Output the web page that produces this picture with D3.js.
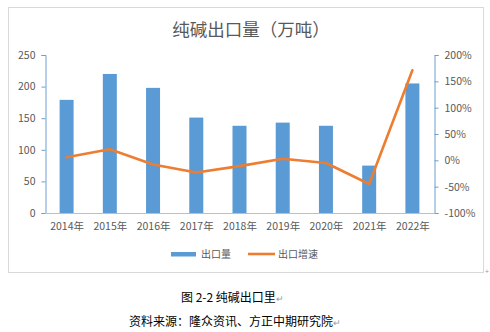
<!DOCTYPE html>
<html>
<head>
<meta charset="utf-8">
<script src="https://cdn.jsdelivr.net/npm/d3@7"></script>
<style>
  html, body { margin: 0; padding: 0; background: #fff; }
  svg { display: block; }
</style>
</head>
<body>
<svg id="chart" width="490" height="332"></svg>
<script>
// Soda ash exports (10k tonnes) and year-on-year growth
const years = ["2014年", "2015年", "2016年", "2017年", "2018年", "2019年", "2020年", "2021年", "2022年"];
const exportVolume = [179, 220, 198, 151, 138, 143, 138, 75, 205];
const exportGrowth = [6, 21, -8, -23, -11, 3, -5, -45, 171];
const leftTicks = [0, 50, 100, 150, 200, 250];
const rightTicks = [-100, -50, 0, 50, 100, 150, 200];

const svg = d3.select("#chart");
const font = "'Microsoft YaHei', 'Noto Sans CJK SC', sans-serif";
const grey = "#595959";
const axisBlue = "#6a9fd0";

// chart frame
svg.append("rect")
  .attr("x", 8.5).attr("y", 7.5).attr("width", 475).attr("height", 265)
  .attr("fill", "#fff").attr("stroke", "#d9d9d9").attr("stroke-width", 1);

svg.append("text")
  .attr("x", 251).attr("y", 36)
  .attr("text-anchor", "middle")
  .attr("font-family", font).attr("font-size", 17.5)
  .attr("fill", grey)
  .text("纯碱出口量（万吨）");

const plot = { left: 45, right: 434, top: 55, bottom: 213 };

const xc = d3.scalePoint().domain(years).range([plot.left, plot.right]).padding(0.5);
const yL = d3.scaleLinear().domain([0, 250]).range([plot.bottom, plot.top]);
const yR = d3.scaleLinear().domain([-100, 200]).range([plot.bottom, plot.top]);

// bars
svg.append("g").selectAll("rect").data(exportVolume).join("rect")
  .attr("x", (d, i) => xc(years[i]) - 7)
  .attr("width", 14)
  .attr("y", d => yL(d))
  .attr("height", d => yL(0) - yL(d))
  .attr("fill", "#5b9bd5");

// left axis
const gL = svg.append("g").attr("transform", `translate(${plot.left + 0.5},0)`)
  .call(d3.axisLeft(yL).tickValues(leftTicks).tickSize(4).tickPadding(6));
gL.select(".domain").attr("stroke", axisBlue);
gL.selectAll(".tick line").attr("stroke", axisBlue);
gL.selectAll("text").attr("font-family", font).attr("font-size", 10.5).attr("fill", grey);

// right axis
const gR = svg.append("g").attr("transform", `translate(${plot.right + 0.5},0)`)
  .call(d3.axisRight(yR).tickValues(rightTicks).tickSize(4).tickPadding(6).tickFormat(d => d + "%"));
gR.select(".domain").attr("stroke", axisBlue);
gR.selectAll(".tick line").attr("stroke", axisBlue);
gR.selectAll("text").attr("font-family", font).attr("font-size", 10.5).attr("fill", grey);

// category axis
const gX = svg.append("g").attr("transform", `translate(0,${plot.bottom + 0.5})`)
  .call(d3.axisBottom(xc).tickSize(0).tickPadding(9));
gX.select(".domain").attr("stroke", "#bfbfbf").attr("d", `M${plot.left},0H${plot.right}`);
gX.selectAll("text").attr("font-family", font).attr("font-size", 10.5).attr("fill", grey);

// growth line
const line = d3.line().x((d, i) => xc(years[i])).y(d => yR(d));
svg.append("path").datum(exportGrowth)
  .attr("d", line)
  .attr("fill", "none")
  .attr("stroke", "#ed7d31")
  .attr("stroke-width", 2.6)
  .attr("stroke-linejoin", "round")
  .attr("stroke-linecap", "round");

// legend
const lg = svg.append("g").attr("font-family", font).attr("font-size", 10).attr("fill", grey);
lg.append("rect").attr("x", 171).attr("y", 252).attr("width", 25).attr("height", 4.5).attr("fill", "#5b9bd5");
lg.append("text").attr("x", 201).attr("y", 258).text("出口量");
lg.append("line").attr("x1", 248).attr("x2", 275).attr("y1", 254).attr("y2", 254)
  .attr("stroke", "#ed7d31").attr("stroke-width", 2.6);
lg.append("text").attr("x", 278).attr("y", 258).text("出口增速");

// small anchor mark beside frame
svg.append("text").attr("x", 485).attr("y", 274).attr("font-size", 7).attr("fill", "#999")
  .attr("font-family", font).text("+");

// caption
const cap = svg.append("g").attr("font-family", "'SimSun', 'Noto Sans CJK SC', sans-serif").attr("font-size", 12).attr("fill", "#000");
const c1 = cap.append("text").attr("x", 181).attr("y", 302);
c1.append("tspan").text("图 2-2 纯碱出口里");
c1.append("tspan").attr("fill", "#999").attr("font-size", 9).text("↵");
const c2 = cap.append("text").attr("x", 129).attr("y", 326);
c2.append("tspan").text("资料来源：隆众资讯、方正中期研究院");
c2.append("tspan").attr("fill", "#999").attr("font-size", 9).text("↵");
</script>
</body>
</html>
